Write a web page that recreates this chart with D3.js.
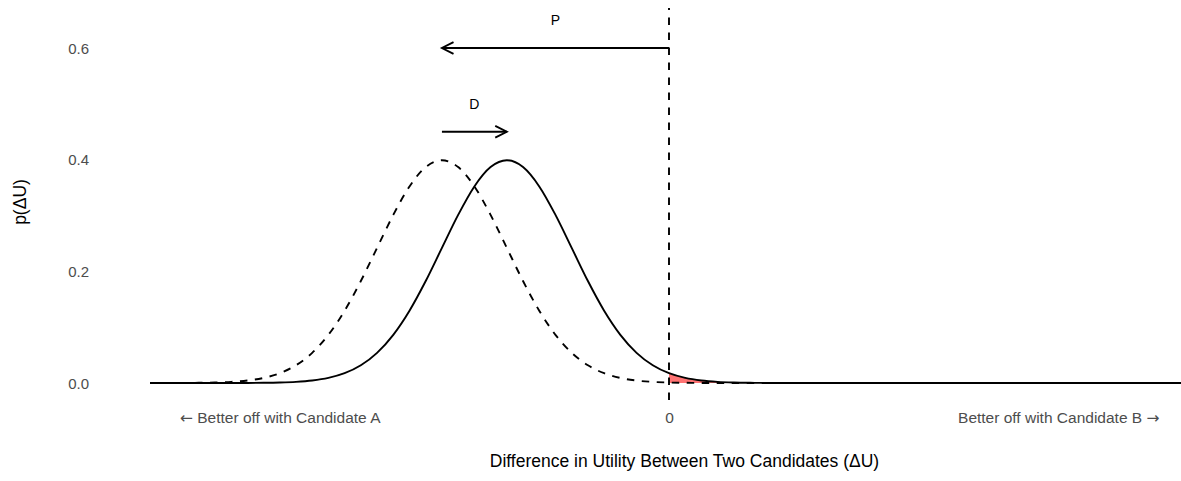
<!DOCTYPE html>
<html>
<head>
<meta charset="utf-8">
<script src="https://cdn.jsdelivr.net/npm/d3@7"></script>
<style>
  html, body { margin: 0; padding: 0; background: #fff; }
  svg { display: block; font-family: "Liberation Sans", Arial, Helvetica, sans-serif; }
</style>
</head>
<body>
<svg id="chart" width="1181" height="481"></svg>
<script>
// ---- data ----
const solidX = [-8, -7.5, -7, -6.75, -6.5, -6.25, -6, -5.75, -5.5, -5.25, -5, -4.75, -4.5, -4.25, -4, -3.75, -3.5, -3.25, -3, -2.75, -2.5, -2.25, -2, -1.75, -1.5, -1.25, -1, -0.75, -0.5, -0.25, 0, 0.25, 0.5, 0.75, 1, 1.25, 1.5, 1.75, 2, 2.5, 3, 8];
const solidY = [0, 0, 0.000016, 0.00005, 0.00013, 0.00035, 0.00087, 0.002, 0.0044, 0.0091, 0.0175, 0.0317, 0.054, 0.0863, 0.1295, 0.1826, 0.242, 0.3011, 0.3521, 0.3867, 0.3989, 0.3867, 0.3521, 0.3011, 0.242, 0.1826, 0.1295, 0.0863, 0.054, 0.0317, 0.0175, 0.0091, 0.0044, 0.002, 0.00087, 0.00035, 0.00013, 0.00005, 0.000016, 0, 0, 0];
const dashedX = [-8, -7.75, -7.5, -7.25, -7, -6.75, -6.5, -6.25, -6, -5.75, -5.5, -5.25, -5, -4.75, -4.5, -4.25, -4, -3.75, -3.5, -3.25, -3, -2.75, -2.5, -2.25, -2, -1.75, -1.5, -1.25, -1, -0.75, -0.5, -0.25, 0, 0.25, 0.5, 0.75, 1, 1.5, 2.5];
const dashedY = [0.000016, 0.00005, 0.00013, 0.00035, 0.00087, 0.002, 0.0044, 0.0091, 0.0175, 0.0317, 0.054, 0.0863, 0.1295, 0.1826, 0.242, 0.3011, 0.3521, 0.3867, 0.3989, 0.3867, 0.3521, 0.3011, 0.242, 0.1826, 0.1295, 0.0863, 0.054, 0.0317, 0.0175, 0.0091, 0.0044, 0.002, 0.00087, 0.00035, 0.00013, 0.00005, 0.000016, 0, 0];
const shadeFrom = 0;            // red area: solid curve right of 0
const vlineX = 0;
const xTickValues = [-6, 0, 6];
const xTickLabels = ["\u2190 Better off with Candidate A", "0", "Better off with Candidate B \u2192"];
const yTickValues = [0, 0.2, 0.4, 0.6];
const yTickLabels = ["0.0", "0.2", "0.4", "0.6"];
const arrowP = { x1: 0, x2: -3.5, y: 0.6, label: "P", lx: -1.75, ly: 0.65 };
const arrowD = { x1: -3.5, x2: -2.5, y: 0.45, label: "D", lx: -3, ly: 0.5 };
const xTitle = "Difference in Utility Between Two Candidates (\u0394U)";
const yTitle = "p(\u0394U)";

// ---- layout ----
const svg = d3.select("#chart");
const panel = { top: 8, bottom: 400 };
const x = d3.scaleLinear().domain([-8, 0]).range([150, 669]);
const y = d3.scaleLinear().domain([0, 0.6]).range([383, 48]);

const solid = solidX.map((v, i) => [v, solidY[i]]);
const dashed = dashedX.map((v, i) => [v, dashedY[i]]);
const shade = solid.filter(d => d[0] >= shadeFrom);

const line = d3.line().x(d => x(d[0])).y(d => y(d[1])).curve(d3.curveMonotoneX);
const area = d3.area().x(d => x(d[0])).y0(y(0)).y1(d => y(d[1])).curve(d3.curveMonotoneX);

// shaded area
svg.append("path").attr("d", area(shade))
  .attr("fill", "#ff0000").attr("fill-opacity", 0.55).attr("stroke", "none");

// dashed curve
svg.append("path").attr("d", line(dashed))
  .attr("fill", "none").attr("stroke", "#000").attr("stroke-width", 1.9)
  .attr("stroke-dasharray", "7.5,7.5");

// solid curve
svg.append("path").attr("d", line(solid))
  .attr("fill", "none").attr("stroke", "#000").attr("stroke-width", 1.9);

// vertical line
svg.append("line")
  .attr("x1", x(vlineX)).attr("x2", x(vlineX))
  .attr("y1", panel.bottom).attr("y2", panel.top)
  .attr("stroke", "#000").attr("stroke-width", 1.9)
  .attr("stroke-dasharray", "7.5,7.5");

// arrows
function drawArrow(a) {
  const X1 = x(a.x1), X2 = x(a.x2), Y = y(a.y);
  svg.append("line").attr("x1", X1).attr("x2", X2).attr("y1", Y).attr("y2", Y)
    .attr("stroke", "#000").attr("stroke-width", 1.9);
  const dir = Math.sign(X2 - X1);
  const len = 13, ang = 27 * Math.PI / 180;
  const bx = X2 - dir * len * Math.cos(ang), dy = len * Math.sin(ang);
  svg.append("path")
    .attr("d", `M${bx},${Y - dy}L${X2},${Y}L${bx},${Y + dy}`)
    .attr("fill", "none").attr("stroke", "#000").attr("stroke-width", 1.9)
    .attr("stroke-linejoin", "miter");
  svg.append("text").attr("x", x(a.lx)).attr("y", y(a.ly))
    .attr("text-anchor", "middle").attr("dominant-baseline", "central")
    .attr("font-size", 14).attr("fill", "#000").text(a.label);
}
drawArrow(arrowP);
drawArrow(arrowD);

// y axis (no line, labels only)
const yAxis = d3.axisLeft(y).tickValues(yTickValues)
  .tickFormat((d, i) => yTickLabels[i]).tickSize(0).tickPadding(0);
const gy = svg.append("g").attr("transform", "translate(89,0)").call(yAxis);
gy.select(".domain").remove();
gy.selectAll("text").attr("font-size", 15).attr("fill", "#4D4D4D")
  .attr("font-family", "Liberation Sans, Arial, sans-serif").attr("dy", "0.35em");

// x axis (labels only); arrow glyphs drawn with DejaVu Sans as in the picture
const xAxis = d3.axisBottom(x).tickValues(xTickValues)
  .tickFormat((d, i) => xTickLabels[i]).tickSize(0).tickPadding(0);
const gx = svg.append("g").attr("transform", "translate(0,412)").call(xAxis);
gx.select(".domain").remove();
gx.selectAll("text").attr("font-size", 15.5).attr("fill", "#4D4D4D")
  .attr("font-family", "Liberation Sans, Arial, sans-serif").attr("dy", "0.71em").attr("y", 0)
  .each(function () {
    const t = d3.select(this), s = t.text();
    t.text(null);
    s.split(/([\u2190\u2192])/).filter(p => p.length).forEach(p => {
      const sp = t.append("tspan").text(p);
      if (/[\u2190\u2192]/.test(p)) sp.attr("font-family", "DejaVu Sans");
    });
  });

// titles
svg.append("text").attr("x", 684.5).attr("y", 467)
  .attr("text-anchor", "middle").attr("font-size", 17.5).attr("fill", "#000").text(xTitle);
svg.append("text").attr("transform", "translate(26,202) rotate(-90)")
  .attr("text-anchor", "middle").attr("font-size", 17.5).attr("fill", "#000").text(yTitle);
</script>
</body>
</html>
